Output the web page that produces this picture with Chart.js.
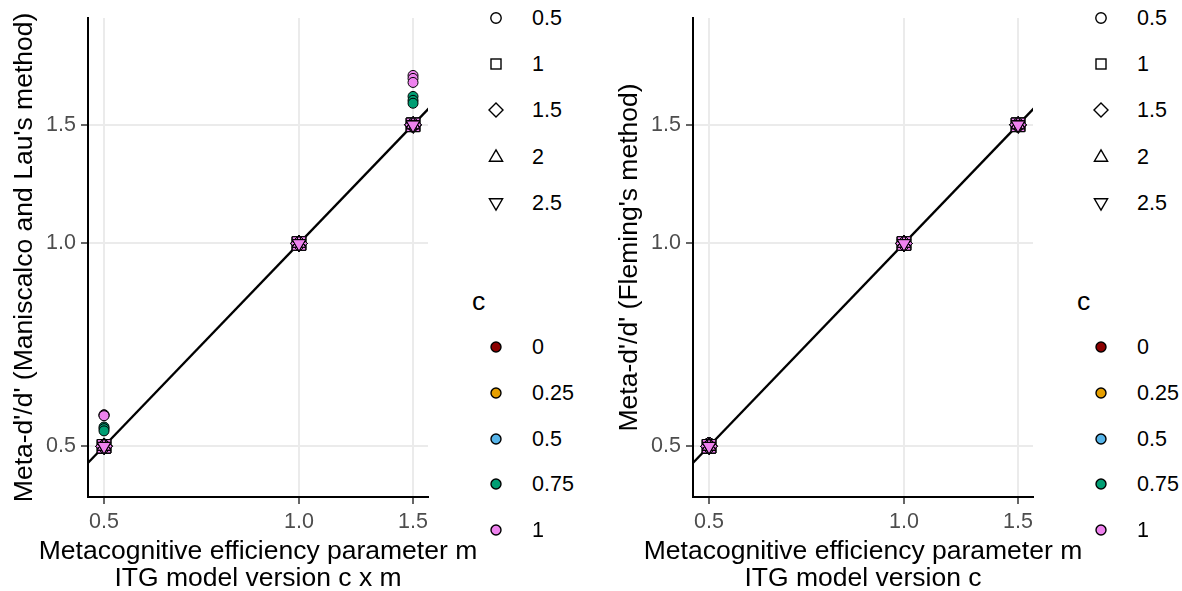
<!DOCTYPE html>
<html>
<head>
<meta charset="utf-8">
<script src="https://cdn.jsdelivr.net/npm/chart.js@4"></script>
<style>
  body { margin: 0; background: #fff; }
  #wrap { position: relative; width: 1182px; height: 591px; font-family: "Liberation Sans", Arial, sans-serif; overflow: hidden; }
  .panel { position: absolute; top: 0; width: 460px; height: 591px; }
  .key { position: absolute; height: 24px; line-height: 24px; font-size: 21.5px; color: #000; white-space: nowrap; }
  .key svg { position: absolute; left: 0; top: 0; }
  .key span { position: absolute; left: 48px; }
  .keytitle { position: absolute; font-size: 26.5px; line-height: 30px; color: #000; }
  .xtitle { position: absolute; top: 537px; width: 600px; text-align: center; font-size: 26.5px; line-height: 27px; color: #000; white-space: nowrap; }
</style>
</head>
<body>
<div id="wrap">
  <div class="panel" style="left:0"><canvas id="ml" width="460" height="591"></canvas></div>
  <div class="panel" style="left:605px"><canvas id="fl" width="460" height="591"></canvas></div>
  <div class="xtitle" style="left:-42px">Metacognitive efficiency parameter m<br>ITG model version c x m</div>
  <div class="xtitle" style="left:563px">Metacognitive efficiency parameter m<br>ITG model version c</div>
</div>
<script>
const mValues = [0.5, 1.0, 1.5];
const tickValues = [0.5, 1.0, 1.5];
const shapeLevels = ['0.5', '1', '1.5', '2', '2.5'];
const cLevels = ['0', '0.25', '0.5', '0.75', '1'];
const cColours = ['#8b0000', '#e69f00', '#56b4e9', '#009e73', '#ee82ee'];

// meta-d'/d' sitting on the identity line
const onLine = [[0.5], [1.0], [1.5]];
// Maniscalco & Lau, shape 0.5, three runs per m
const mlCircleC075 = [[0.534, 0.531, 0.527], [1.0], [1.653, 1.631, 1.615]];
const mlCircleC1 = [[0.557, 0.556, 0.555], [1.0], [1.776, 1.758, 1.734]];
// Fleming, shape 0.5
const flCircle = [[0.506], [1.0], [1.5]];

const xRange = [0.4723, 1.582];
const yRange = [0.4204, 2.162];

const shapeStyles = ['circle', 'rect', 'rectRot', 'triangle', 'triangle'];
const shapeRotation = [0, 0, 0, 0, 180];
const shapeRadius = [5, 9.5, 8.3, 7.6, 7.6];
const FONT = '"Liberation Sans", Arial, sans-serif';

function toPoints(vals) {
  return mValues.flatMap((m, i) => vals[i].map(y => ({ x: m, y: y })));
}

function makeChart(id, yTitle, seriesFor) {
  const datasets = [];
  shapeLevels.forEach((s, si) => {
    cLevels.forEach((c, ci) => {
      datasets.push({
        data: toPoints(seriesFor(si, ci)),
        pointStyle: shapeStyles[si],
        pointRotation: shapeRotation[si],
        pointRadius: shapeRadius[si],
        pointBackgroundColor: cColours[ci],
        pointBorderColor: '#000',
        pointBorderWidth: 1,
        showLine: false
      });
    });
  });
  // chart.js paints the first dataset last, so flip to keep the later groups on top
  datasets.reverse();
  // y = x reference line, underneath the points
  datasets.push({
    data: [{ x: 0.4, y: 0.4 }, { x: 1.7, y: 1.7 }],
    showLine: true,
    borderColor: '#000',
    borderWidth: 2.3,
    pointRadius: 0,
    clip: 0
  });

  const tickOpts = {
    font: { size: 21.5, family: FONT },
    color: '#4d4d4d',
    callback: v => Number(v).toFixed(1),
    autoSkip: false,
    maxRotation: 0
  };
  const gridOpts = { color: '#ebebeb', lineWidth: 2, tickColor: '#333', tickWidth: 1.5, tickLength: 7 };

  return new Chart(document.getElementById(id), {
    type: 'scatter',
    data: { datasets: datasets },
    options: {
      responsive: false,
      animation: false,
      layout: { padding: { top: 15, right: 32, left: 0, bottom: 0 }, autoPadding: false },
      plugins: { legend: { display: false }, tooltip: { enabled: false } },
      scales: {
        x: {
          type: 'logarithmic',
          min: xRange[0], max: xRange[1],
          afterBuildTicks: s => { s.ticks = tickValues.map(v => ({ value: v })); },
          afterFit: s => { s.height = 94; },
          ticks: Object.assign({ padding: 5 }, tickOpts),
          grid: gridOpts,
          border: { color: '#000', width: 2 }
        },
        y: {
          type: 'logarithmic',
          min: yRange[0], max: yRange[1],
          afterBuildTicks: s => { s.ticks = tickValues.map(v => ({ value: v })); },
          afterFit: s => { s.width = 88; },
          ticks: Object.assign({ padding: 5 }, tickOpts),
          grid: gridOpts,
          border: { color: '#000', width: 2 },
          title: {
            display: true, text: yTitle, color: '#000',
            font: { size: 26.5, family: FONT, lineHeight: 1.2 }, padding: { top: 9, bottom: 0 }
          }
        }
      }
    }
  });
}

makeChart('ml', "Meta-d'/d' (Maniscalco and Lau's method)", (si, ci) => {
  if (si === 0 && ci === 3) return mlCircleC075;
  if (si === 0 && ci === 4) return mlCircleC1;
  return onLine;
});

makeChart('fl', "Meta-d'/d' (Fleming's method)", (si, ci) => (si === 0 ? flCircle : onLine));

// legends drawn as html: shape key (hollow) and colour key for c
function symbolSvg(kind, fill) {
  const st = 'stroke="#000" stroke-width="1.4" fill="' + (fill || 'none') + '"';
  let shape;
  switch (kind) {
    case 'circle': shape = '<circle cx="12" cy="12" r="' + (fill ? 5 : 5.2) + '" ' + st + '/>'; break;
    case 'rect': shape = '<rect x="7" y="7" width="10" height="10" ' + st + '/>'; break;
    case 'rectRot': shape = '<polygon points="12,5 19,12 12,19 5,12" ' + st + '/>'; break;
    case 'up': shape = '<polygon points="12,4.8 18.6,16.2 5.4,16.2" ' + st + '/>'; break;
    case 'down': shape = '<polygon points="12,19.2 18.6,7.8 5.4,7.8" ' + st + '/>'; break;
  }
  return '<svg width="24" height="24">' + shape + '</svg>';
}

function addLegend(offsetX) {
  const wrap = document.getElementById('wrap');
  const kinds = ['circle', 'rect', 'rectRot', 'up', 'down'];
  shapeLevels.forEach((lab, i) => {
    const d = document.createElement('div');
    d.className = 'key';
    d.style.left = (offsetX + 484) + 'px';
    d.style.top = (18 + 46.2 * i - 12) + 'px';
    d.innerHTML = symbolSvg(kinds[i]) + '<span>' + lab + '</span>';
    wrap.appendChild(d);
  });
  const t = document.createElement('div');
  t.className = 'keytitle';
  t.style.left = (offsetX + 472) + 'px';
  t.style.top = (301 - 15) + 'px';
  t.textContent = 'c';
  wrap.appendChild(t);
  cLevels.forEach((lab, i) => {
    const d = document.createElement('div');
    d.className = 'key';
    d.style.left = (offsetX + 484) + 'px';
    d.style.top = (347 + 45.8 * i - 12) + 'px';
    d.innerHTML = symbolSvg('circle', cColours[i]) + '<span>' + lab + '</span>';
    wrap.appendChild(d);
  });
}
addLegend(0);
addLegend(605);
</script>
</body>
</html>
